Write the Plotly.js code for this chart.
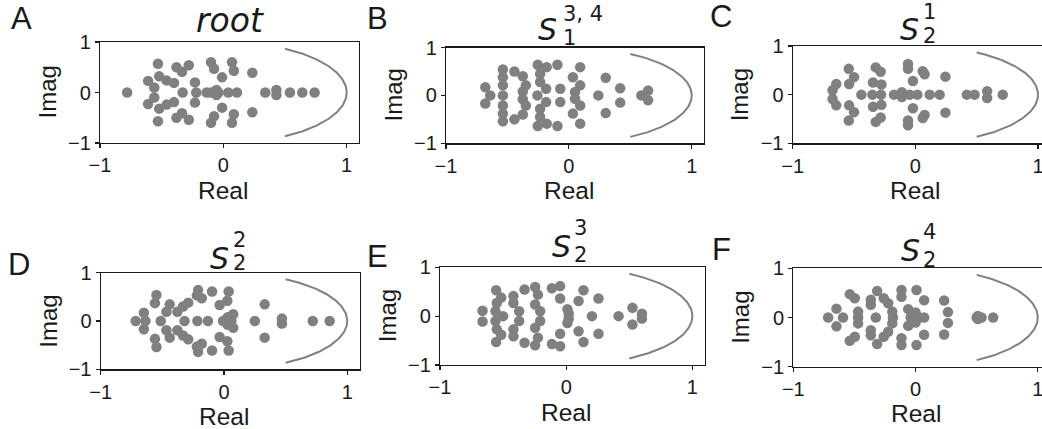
<!DOCTYPE html>
<html>
<head>
<meta charset="utf-8">
<script src="https://cdn.plot.ly/plotly-3.0.1.min.js"></script>
<style>
  html, body { margin: 0; padding: 0; overflow: hidden; background: #fff; }
  #plot { width: 1052px; height: 429px; }
</style>
</head>
<body>
<div id="plot"></div>
<script>
// Eigenvalue spectra (real, imaginary parts) for each network
const rootRe = [-0.78, -0.33, -0.22, -0.135, -0.1, -0.04, 0.04, 0.11, 0.34, 0.54, 0.64, 0.74,
  -0.53, -0.53, -0.61, -0.61, -0.56, -0.56, -0.52, -0.52, -0.46, -0.46, -0.40, -0.40,
  -0.38, -0.38, -0.335, -0.335, -0.28, -0.28, -0.23, -0.23, -0.10, -0.10, -0.075, -0.075,
  -0.01, -0.01, 0.07, 0.07, 0.085, 0.085, 0.235, 0.235, -0.055, -0.055, 0.43, 0.43];
const rootIm = [0, 0, 0, 0, 0, 0, 0, 0, 0, 0, 0, 0,
  0.57, -0.57, 0.23, -0.23, 0.1, -0.1, 0.32, -0.32, 0.24, -0.24, 0.19, -0.19,
  0.5, -0.5, 0.41, -0.41, 0.54, -0.54, 0.2, -0.2, 0.6, -0.6, 0.47, -0.47,
  0.3, -0.3, 0.6, -0.6, 0.43, -0.43, 0.39, -0.39, 0.05, -0.05, 0.05, -0.05];

const s134Re = [-0.64, -0.537, -0.256, 0.24, 0.59,
  -0.68, -0.68, -0.537, -0.537, -0.537, -0.537, -0.537, -0.537, -0.443, -0.443,
  -0.375, -0.375, -0.35, -0.35, -0.375, -0.375, -0.253, -0.253, -0.18, -0.18,
  -0.234, -0.234, -0.234, -0.234, -0.185, -0.185, -0.093, -0.093, -0.07, -0.07,
  0.033, 0.033, 0.092, 0.092, 0.092, 0.092, 0.05, 0.05, 0.30, 0.30, 0.418, 0.418, 0.645, 0.645];
const s134Im = [0, 0, 0, 0, 0,
  0.17, -0.17, 0.54, -0.54, 0.38, -0.38, 0.21, -0.21, 0.5, -0.5,
  0.4, -0.4, 0.21, -0.21, 0.08, -0.08, 0.64, -0.64, 0.59, -0.59,
  0.45, -0.45, 0.28, -0.28, 0.14, -0.14, 0.64, -0.64, 0.14, -0.14,
  0.38, -0.38, 0.59, -0.59, 0.21, -0.21, 0.07, -0.07, 0.37, -0.37, 0.15, -0.15, 0.1, -0.1];

const s21Re = [-0.44, -0.35, -0.28, -0.174, -0.046, 0.016, 0.117, 0.198, 0.42, 0.483, 0.712,
  -0.645, -0.645, -0.675, -0.675, -0.543, -0.543, -0.50, -0.50, -0.54, -0.54,
  -0.323, -0.323, -0.283, -0.283, -0.345, -0.345, -0.277, -0.277, -0.11, -0.11,
  -0.06, -0.06, -0.06, -0.06, 0.06, 0.06, 0.075, 0.075, -0.02, -0.02, 0.245, 0.245, 0.585, 0.585];
const s21Im = [0, 0, 0, 0, 0, 0, 0, 0, 0, 0, 0,
  0.22, -0.22, 0.09, -0.09, 0.53, -0.53, 0.36, -0.36, 0.22, -0.22,
  0.56, -0.56, 0.47, -0.47, 0.25, -0.25, 0.21, -0.21, 0.05, -0.05,
  0.63, -0.63, 0.53, -0.53, 0.48, -0.48, 0.42, -0.42, 0.28, -0.28, 0.37, -0.37, 0.07, -0.07];

const s22Re = [-0.716, -0.637, -0.513, -0.32, -0.216, -0.13, -0.008, 0.06, 0.25, 0.72, 0.857,
  -0.65, -0.65, -0.548, -0.548, -0.56, -0.56, -0.44, -0.44, -0.467, -0.467, -0.378, -0.378,
  -0.332, -0.332, -0.29, -0.29, -0.21, -0.21, -0.22, -0.22, -0.18, -0.18, -0.097, -0.097,
  -0.035, -0.035, 0.027, 0.027, 0.038, 0.038, 0.33, 0.33, 0.03, 0.03, 0.075, 0.075, 0.47, 0.47];
const s22Im = [0, 0, 0, 0, 0, 0, 0, 0, 0, 0, 0,
  0.17, -0.17, 0.54, -0.54, 0.37, -0.37, 0.345, -0.345, 0.19, -0.19, 0.19, -0.19,
  0.30, -0.30, 0.38, -0.38, 0.64, -0.64, 0.53, -0.53, 0.47, -0.47, 0.61, -0.61,
  0.33, -0.33, 0.42, -0.42, 0.61, -0.61, 0.345, -0.345, 0.08, -0.08, 0.14, -0.14, 0.05, -0.05];

const s23Re = [-0.50, 0.204, 0.415,
  -0.663, -0.663, -0.555, -0.555, -0.515, -0.515, -0.55, -0.55, -0.56, -0.56,
  -0.418, -0.418, -0.418, -0.418, -0.373, -0.373, -0.33, -0.33, -0.246, -0.246,
  -0.224, -0.224, -0.246, -0.246, -0.206, -0.206, -0.113, -0.113, -0.048, -0.048,
  -0.048, -0.048, 0.01, 0.01, 0.02, 0.02, 0.137, 0.137, 0.098, 0.098, 0.256, 0.256,
  0.525, 0.525, 0.6, 0.6];
const s23Im = [0, 0, 0,
  0.11, -0.11, 0.53, -0.53, 0.38, -0.38, 0.27, -0.27, 0.1, -0.1,
  0.41, -0.41, 0.27, -0.27, 0.1, -0.1, 0.545, -0.545, 0.595, -0.595,
  0.44, -0.44, 0.24, -0.24, 0.1, -0.1, 0.57, -0.57, 0.615, -0.615,
  0.36, -0.36, 0.14, -0.14, 0.05, -0.05, 0.53, -0.53, 0.31, -0.31, 0.36, -0.36,
  0.17, -0.17, 0.05, -0.05];

const s24Re = [-0.715, -0.593, -0.47, -0.325, -0.185, -0.04, 0.03, 0.07, 0.5, 0.54, 0.635,
  -0.647, -0.647, -0.538, -0.538, -0.497, -0.497, -0.47, -0.47, -0.366, -0.366, -0.366, -0.366,
  -0.314, -0.314, -0.26, -0.26, -0.224, -0.224, -0.19, -0.19, -0.115, -0.115, -0.115, -0.115,
  0.008, 0.008, 0.07, 0.07, -0.06, -0.06, 0.0, 0.0, 0.234, 0.234, 0.265, 0.265, 0.51, 0.51];
const s24Im = [0, 0, 0, 0, 0, 0, 0, 0, 0, 0, 0,
  0.18, -0.18, 0.475, -0.475, 0.39, -0.39, 0.12, -0.12, 0.36, -0.36, 0.26, -0.26,
  0.54, -0.54, 0.39, -0.39, 0.29, -0.29, 0.12, -0.12, 0.56, -0.56, 0.42, -0.42,
  0.56, -0.56, 0.35, -0.35, 0.17, -0.17, 0.1, -0.1, 0.345, -0.345, 0.11, -0.11, 0.03, -0.03];

const tickVals = [-1, 0, 1];
const tickText = ['\u22121', '0', '1'];
const panelLetters = ['A', 'B', 'C', 'D', 'E', 'F'];

// Canvas and panel boxes in pixels: [left, right, top, bottom]
const W = 1052, H = 429;
const panels = [
  { re: rootRe, im: rootIm, box: [100, 359, 42, 143] },
  { re: s134Re, im: s134Im, box: [446, 704, 47.5, 143.3] },
  { re: s21Re, im: s21Im, box: [792.7, 1050.3, 46, 143.3] },
  { re: s22Re, im: s22Im, box: [100.7, 359.6, 272.7, 369.3] },
  { re: s23Re, im: s23Im, box: [440, 705, 267.3, 365] },
  { re: s24Re, im: s24Im, box: [793.3, 1050, 268.3, 366.7] }
];

// Right-hand arc of the unit circle, from -60 to 60 degrees
const arcX = [], arcY = [];
for (let k = 0; k <= 120; k++) {
  const t = (-60 + k) * Math.PI / 180;
  arcX.push(Math.cos(t));
  arcY.push(Math.sin(t));
}

const FONT = 'Liberation Sans, Arial, sans-serif';
const MATH = 'DejaVu Sans, sans-serif';
const INK = '#1a1a1a';
const GREY = '#808080';
const px = v => v / W;
const py = v => 1 - v / H;

const data = [];
const layout = {
  width: W, height: H,
  margin: { l: 0, r: 0, t: 0, b: 0 },
  paper_bgcolor: '#fff', plot_bgcolor: '#fff',
  showlegend: false,
  font: { family: FONT, color: INK },
  annotations: []
};

panels.forEach((p, i) => {
  const n = i + 1;
  const xa = 'x' + (n === 1 ? '' : n), ya = 'y' + (n === 1 ? '' : n);
  const [l, r, t, b] = p.box;
  data.push({
    type: 'scatter', mode: 'markers', x: p.re, y: p.im, xaxis: xa, yaxis: ya,
    marker: { color: GREY, size: 10.5 }, cliponaxis: false, hoverinfo: 'x+y'
  });
  data.push({
    type: 'scatter', mode: 'lines', x: arcX, y: arcY, xaxis: xa, yaxis: ya,
    line: { color: GREY, width: 2 }, hoverinfo: 'skip'
  });
  const common = {
    showgrid: false, zeroline: false, showline: true, mirror: true,
    linecolor: INK, linewidth: 1.2, ticks: 'outside', ticklen: 4, tickwidth: 1.2,
    tickcolor: INK, tickvals: tickVals, ticktext: tickText,
    tickfont: { family: FONT, size: 20, color: INK }, fixedrange: true
  };
  layout['xaxis' + (n === 1 ? '' : n)] = Object.assign({}, common, {
    domain: [px(l), px(r)], range: [-1, 1.1], anchor: ya
  });
  layout['yaxis' + (n === 1 ? '' : n)] = Object.assign({}, common, {
    domain: [py(b), py(t)], range: [-1, 1], anchor: xa
  });
  // axis titles
  const cx = l + (r - l) * (1 / 2.1);
  layout.annotations.push({
    xref: 'paper', yref: 'paper', x: px(cx), y: py(b + 47), xanchor: 'center', yanchor: 'middle',
    text: 'Real', showarrow: false, font: { family: FONT, size: 24.5, color: INK }
  });
  layout.annotations.push({
    xref: 'paper', yref: 'paper', x: px(l - 53), y: py((t + b) / 2), xanchor: 'center', yanchor: 'middle',
    text: 'Imag', textangle: -90, showarrow: false, font: { family: FONT, size: 24, color: INK }
  });
});

// Panel letters
const letterPos = [[21, 19], [377, 18], [721, 17], [19, 264], [377, 256], [721, 249]];
panelLetters.forEach((s, i) => {
  layout.annotations.push({
    xref: 'paper', yref: 'paper', x: px(letterPos[i][0]), y: py(letterPos[i][1]),
    xanchor: 'center', yanchor: 'middle', text: s, showarrow: false,
    font: { family: FONT, size: 31, color: INK }
  });
});

// Panel titles: "root" and S with stacked sub/superscripts
layout.annotations.push({
  xref: 'paper', yref: 'paper', x: px(230), y: 1, xanchor: 'center', yanchor: 'top',
  text: '<i>root</i>', showarrow: false, borderpad: 0,
  font: { family: MATH, size: 33, color: INK }
});
const sTitles = [
  { s: [547, 29], sup: '3, 4', supPos: [561, 14], sub: '1', subPos: [561, 38] },
  { s: [909, 29], sup: '1', supPos: [921, 12], sub: '2', subPos: [921, 36] },
  { s: [219, 258], sup: '2', supPos: [231, 240], sub: '2', subPos: [231, 263] },
  { s: [561, 246], sup: '3', supPos: [572, 228], sub: '2', subPos: [572, 255] },
  { s: [910, 250], sup: '4', supPos: [921, 232], sub: '2', subPos: [921, 260] }
];
sTitles.forEach(o => {
  layout.annotations.push({
    xref: 'paper', yref: 'paper', x: px(o.s[0]), y: py(o.s[1]), xanchor: 'center', yanchor: 'middle',
    text: '<i>S</i>', showarrow: false, font: { family: MATH, size: 30, color: INK }
  });
  layout.annotations.push({
    xref: 'paper', yref: 'paper', x: px(o.supPos[0]), y: py(o.supPos[1]), xanchor: 'left', yanchor: 'middle',
    text: o.sup, showarrow: false, font: { family: MATH, size: 21, color: INK }
  });
  layout.annotations.push({
    xref: 'paper', yref: 'paper', x: px(o.subPos[0]), y: py(o.subPos[1]), xanchor: 'left', yanchor: 'middle',
    text: o.sub, showarrow: false, font: { family: MATH, size: 21, color: INK }
  });
});

Plotly.newPlot('plot', data, layout, { staticPlot: true, displayModeBar: false });
</script>
</body>
</html>
